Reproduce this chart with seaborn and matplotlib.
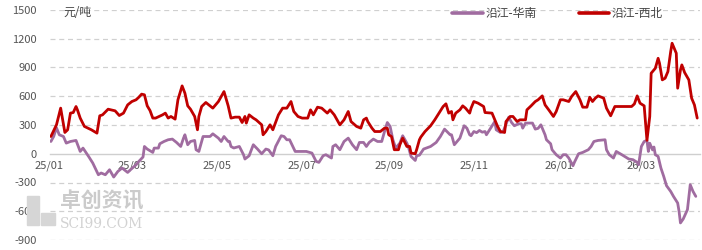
import matplotlib
matplotlib.use("Agg")
import matplotlib.pyplot as plt
import matplotlib.dates as mdates
import seaborn as sns
import pandas as pd
from matplotlib.patches import Rectangle

# ---------------- data ----------------
nw_dates = [
    "2025-01-02", "2025-01-05", "2025-01-06", "2025-01-09", "2025-01-12", "2025-01-14", "2025-01-16",
    "2025-01-18", "2025-01-20", "2025-01-21", "2025-01-23", "2025-01-26", "2025-01-31", "2025-02-04",
    "2025-02-06", "2025-02-08", "2025-02-12", "2025-02-17", "2025-02-20", "2025-02-23", "2025-02-26",
    "2025-03-01", "2025-03-04", "2025-03-06", "2025-03-08", "2025-03-10", "2025-03-12", "2025-03-14",
    "2025-03-16", "2025-03-18", "2025-03-23", "2025-03-25", "2025-03-27", "2025-03-29", "2025-04-01",
    "2025-04-03", "2025-04-06", "2025-04-08", "2025-04-10", "2025-04-12", "2025-04-15", "2025-04-17",
    "2025-04-18", "2025-04-20", "2025-04-23", "2025-04-26", "2025-04-28", "2025-05-02", "2025-05-06",
    "2025-05-09", "2025-05-11", "2025-05-14", "2025-05-17", "2025-05-19", "2025-05-21", "2025-05-22",
    "2025-05-24", "2025-05-27", "2025-05-29", "2025-06-02", "2025-06-03", "2025-06-05", "2025-06-08",
    "2025-06-10", "2025-06-14", "2025-06-17", "2025-06-20", "2025-06-23", "2025-06-25", "2025-06-28",
    "2025-07-01", "2025-07-05", "2025-07-07", "2025-07-09", "2025-07-12", "2025-07-15", "2025-07-19",
    "2025-07-21", "2025-07-24", "2025-07-28", "2025-07-31", "2025-08-03", "2025-08-05", "2025-08-09",
    "2025-08-12", "2025-08-14", "2025-08-16", "2025-08-17", "2025-08-20", "2025-08-22", "2025-08-26",
    "2025-08-29", "2025-08-31", "2025-09-01", "2025-09-03", "2025-09-05", "2025-09-08", "2025-09-09",
    "2025-09-11", "2025-09-14", "2025-09-16", "2025-09-17", "2025-09-20", "2025-09-21", "2025-09-23",
    "2025-09-24", "2025-09-27", "2025-10-01", "2025-10-04", "2025-10-07", "2025-10-10", "2025-10-12",
    "2025-10-14", "2025-10-16", "2025-10-17", "2025-10-19", "2025-10-22", "2025-10-24", "2025-10-26",
    "2025-10-29", "2025-10-30", "2025-11-01", "2025-11-04", "2025-11-08", "2025-11-09", "2025-11-14",
    "2025-11-16", "2025-11-18", "2025-11-20", "2025-11-23", "2025-11-24", "2025-11-27", "2025-11-29",
    "2025-12-02", "2025-12-04", "2025-12-08", "2025-12-09", "2025-12-12", "2025-12-15", "2025-12-17",
    "2025-12-20", "2025-12-22", "2025-12-25", "2025-12-28", "2025-12-30", "2026-01-02", "2026-01-04",
    "2026-01-08", "2026-01-10", "2026-01-13", "2026-01-16", "2026-01-18", "2026-01-21", "2026-01-23",
    "2026-01-25", "2026-01-27", "2026-01-29", "2026-02-02", "2026-02-04", "2026-02-07", "2026-02-10",
    "2026-02-22", "2026-02-24", "2026-02-26", "2026-02-28", "2026-03-03", "2026-03-05", "2026-03-07",
    "2026-03-08", "2026-03-11", "2026-03-13", "2026-03-14", "2026-03-16", "2026-03-18", "2026-03-20",
    "2026-03-22", "2026-03-23", "2026-03-26", "2026-03-27", "2026-03-29", "2026-03-30", "2026-04-01",
    "2026-04-04", "2026-04-06", "2026-04-08", "2026-04-10",
]
nw_values = [
    180, 271, 302, 476, 222, 250, 424,
    430, 493, 458, 372, 285, 250, 215,
    396, 406, 465, 448, 399, 424, 510,
    545, 563, 590, 622, 615, 500, 451,
    372, 372, 406, 424, 372, 389, 361,
    563, 708, 632, 500, 465, 389, 250,
    389, 493, 535, 500, 476, 545, 649,
    500, 372, 382, 382, 326, 389, 320,
    406, 372, 354, 302, 198, 232, 302,
    250, 406, 476, 476, 545, 441, 389,
    372, 372, 458, 406, 486, 476, 424,
    458, 406, 302, 354, 441, 336, 285,
    267, 354, 372, 336, 267, 232, 232,
    267, 267, 198, 180, 42, 42, 94,
    163, 76, 76, 7, 0, 42, 146,
    174, 232, 292, 354, 424, 493, 521,
    424, 441, 354, 424, 458, 500, 476,
    424, 476, 545, 528, 493, 430, 424,
    354, 285, 232, 222, 336, 389, 389,
    336, 354, 354, 458, 500, 545, 563,
    604, 510, 451, 389, 441, 563, 563,
    545, 597, 649, 563, 486, 486, 590,
    545, 580, 604, 580, 476, 396, 493,
    493, 520, 604, 528, 500, 140, 389,
    840, 892, 996, 944, 771, 788, 857,
    1066, 1153, 1049, 684, 875, 927, 847,
    771, 580, 510, 372,
]

sc_dates = [
    "2025-01-02", "2025-01-04", "2025-01-06", "2025-01-08", "2025-01-11", "2025-01-13", "2025-01-16",
    "2025-01-20", "2025-01-23", "2025-01-25", "2025-01-29", "2025-02-01", "2025-02-05", "2025-02-07",
    "2025-02-10", "2025-02-13", "2025-02-16", "2025-02-19", "2025-02-22", "2025-02-26", "2025-02-28",
    "2025-03-04", "2025-03-06", "2025-03-09", "2025-03-10", "2025-03-12", "2025-03-16", "2025-03-17",
    "2025-03-20", "2025-03-21", "2025-03-24", "2025-03-27", "2025-03-30", "2025-04-02", "2025-04-05",
    "2025-04-07", "2025-04-08", "2025-04-10", "2025-04-12", "2025-04-15", "2025-04-16", "2025-04-18",
    "2025-04-21", "2025-04-26", "2025-04-28", "2025-05-02", "2025-05-04", "2025-05-06", "2025-05-09",
    "2025-05-10", "2025-05-11", "2025-05-13", "2025-05-17", "2025-05-20", "2025-05-21", "2025-05-24",
    "2025-05-27", "2025-05-30", "2025-06-02", "2025-06-05", "2025-06-07", "2025-06-10", "2025-06-12",
    "2025-06-16", "2025-06-18", "2025-06-20", "2025-06-22", "2025-06-26", "2025-06-29", "2025-07-04",
    "2025-07-08", "2025-07-11", "2025-07-13", "2025-07-16", "2025-07-18", "2025-07-22", "2025-07-23",
    "2025-07-25", "2025-07-28", "2025-07-31", "2025-08-03", "2025-08-06", "2025-08-09", "2025-08-11",
    "2025-08-14", "2025-08-16", "2025-08-18", "2025-08-21", "2025-08-24", "2025-08-27", "2025-08-29",
    "2025-08-31", "2025-09-02", "2025-09-04", "2025-09-06", "2025-09-09", "2025-09-11", "2025-09-14",
    "2025-09-15", "2025-09-17", "2025-09-20", "2025-09-21", "2025-09-23", "2025-09-26", "2025-10-01",
    "2025-10-05", "2025-10-08", "2025-10-11", "2025-10-15", "2025-10-16", "2025-10-18", "2025-10-22",
    "2025-10-25", "2025-10-27", "2025-10-29", "2025-10-30", "2025-11-01", "2025-11-03", "2025-11-05",
    "2025-11-07", "2025-11-09", "2025-11-10", "2025-11-13", "2025-11-16", "2025-11-17", "2025-11-20",
    "2025-11-22", "2025-11-26", "2025-11-28", "2025-11-30", "2025-12-03", "2025-12-05", "2025-12-06",
    "2025-12-08", "2025-12-13", "2025-12-15", "2025-12-17", "2025-12-19", "2025-12-22", "2025-12-23",
    "2025-12-26", "2025-12-27", "2025-12-30", "2026-01-02", "2026-01-04", "2026-01-06", "2026-01-08",
    "2026-01-11", "2026-01-12", "2026-01-15", "2026-01-18", "2026-01-22", "2026-01-24", "2026-01-26",
    "2026-01-29", "2026-02-03", "2026-02-04", "2026-02-06", "2026-02-09", "2026-02-11", "2026-02-15",
    "2026-02-20", "2026-02-23", "2026-02-26", "2026-02-27", "2026-03-01", "2026-03-03", "2026-03-05",
    "2026-03-06", "2026-03-07", "2026-03-09", "2026-03-10", "2026-03-11", "2026-03-13", "2026-03-15",
    "2026-03-17", "2026-03-19", "2026-03-22", "2026-03-24", "2026-03-27", "2026-03-28", "2026-03-29",
    "2026-03-31", "2026-04-03", "2026-04-05", "2026-04-07", "2026-04-09",
]
sc_values = [
    128, 180, 271, 198, 180, 111, 128,
    139, 24, 59, -28, -97, -219, -201,
    -219, -167, -243, -184, -149, -195, -167,
    -115, -80, -34, 76, 49, 14, 59,
    59, 104, 128, 146, 153, 118, 76,
    163, 198, 94, 128, 139, 42, 24,
    180, 180, 208, 163, 128, 180, 128,
    128, 76, 60, 76, -10, -55, -21,
    94, 49, 0, 49, 40, -21, 76,
    188, 180, 146, 146, 24, 24, 24,
    7, -80, -90, -21, -10, -45, 76,
    94, 42, 128, 163, 94, 42, 118,
    118, 76, 118, 153, 128, 128, 232,
    326, 285, 146, 59, 111, 188, 111,
    76, -28, -70, -21, -15, 49, 76,
    118, 180, 257, 198, 198, 94, 163,
    292, 267, 198, 188, 232, 220, 243,
    225, 232, 198, 267, 336, 250, 222,
    232, 382, 326, 292, 313, 313, 267,
    320, 320, 257, 265, 302, 198, 146,
    104, 42, -10, -45, -10, -10, -45,
    -125, -90, 0, 14, 42, 76, 128,
    139, 146, 42, -10, -45, 24, -10,
    -55, -62, -90, -115, 76, 128, 139,
    24, 110, 40, 70, -10, -28, -149,
    -236, -333, -393, -445, -514, -601, -722,
    -680, -583, -323, -393, -445,
]

series_names = ["沿江-华南", "沿江-西北"]
unit_label = "元/吨"
watermark_cn = "卓创资讯"
watermark_en = "SCI99.COM"
y_ticks = [-900, -600, -300, 0, 300, 600, 900, 1200, 1500]
x_tick_dates = ["2025-01-01", "2025-03-01", "2025-05-01", "2025-07-01",
                "2025-09-01", "2025-11-01", "2026-01-01", "2026-03-01"]

# ---------------- plotting ----------------
sns.set_theme(style="white")
plt.rcParams["font.family"] = ["Noto Sans CJK SC", "DejaVu Sans"]
plt.rcParams["axes.unicode_minus"] = False

fig = plt.figure(figsize=(7.02, 2.50), dpi=100)
ax = fig.add_axes([49.5 / 702, 10 / 250, (700 - 49.5) / 702, 230 / 250])

df_sc = pd.DataFrame({"date": pd.to_datetime(sc_dates), "value": sc_values})
df_nw = pd.DataFrame({"date": pd.to_datetime(nw_dates), "value": nw_values})

purple = "#A06CA0"
red = "#C00000"

# watermark (behind lines)
wm = "#cbcbcb"
fig.text(60 / 702, 1 - 201 / 250, watermark_cn, fontsize=15, color=wm, fontweight="bold",
         ha="left", va="center", zorder=0)
fig.text(60 / 702, 1 - 224 / 250, watermark_en, fontsize=10, color="#d2d2d2",
         family="DejaVu Serif", ha="left", va="center", zorder=0)
fig.patches.append(Rectangle((27 / 702, 1 - 225 / 250), 12 / 702, 29 / 250,
                             transform=fig.transFigure, color="#d6d6d6", zorder=0))
fig.patches.append(Rectangle((41 / 702, 1 - 225 / 250), 14 / 702, 12 / 250,
                             transform=fig.transFigure, color="#d6d6d6", zorder=0))

sns.lineplot(data=df_sc, x="date", y="value", ax=ax, color=purple, linewidth=2.0,
             label=series_names[0], zorder=3)
sns.lineplot(data=df_nw, x="date", y="value", ax=ax, color=red, linewidth=2.0,
             label=series_names[1], zorder=4)

ax.set_xlim(pd.Timestamp("2025-01-01"), pd.Timestamp("2026-04-12"))
ax.set_ylim(-900, 1500)
ax.set_yticks(y_ticks)
ax.set_yticklabels([str(v) for v in y_ticks])
ax.set_xticks(pd.to_datetime(x_tick_dates))
ax.xaxis.set_major_formatter(mdates.DateFormatter("%y/%m"))
ax.set_xlabel("")
ax.set_ylabel("")
ax.patch.set_alpha(0)

for v in y_ticks:
    if v != 0:
        ax.axhline(v, color="#d0d0d0", linewidth=0.9, linestyle=(0, (4, 3)), zorder=1)

for s in ["top", "right", "left"]:
    ax.spines[s].set_visible(False)
ax.spines["bottom"].set_position(("data", 0))
ax.spines["bottom"].set_color("#cfcfcf")
ax.spines["bottom"].set_linewidth(1.0)
ax.spines["bottom"].set_zorder(2)

ax.tick_params(axis="x", direction="out", length=4, width=0.8, color="#cfcfcf",
               labelsize=8, labelcolor="#555555", pad=1)
ax.tick_params(axis="y", length=0, labelsize=8, labelcolor="#555555", pad=9)

ax.text(63 / 702, 1 - 12 / 250, unit_label, transform=fig.transFigure, fontsize=8.5,
        color="#444444", ha="left", va="center")

leg = ax.legend(loc="upper left", bbox_to_anchor=(445 / 702, 1.0), bbox_transform=fig.transFigure,
                ncol=2, frameon=False, fontsize=8.5, handlelength=2.6, handletextpad=0.2,
                columnspacing=3.6, borderaxespad=0.2)
for line in leg.get_lines():
    line.set_linewidth(2.6)
for t in leg.get_texts():
    t.set_color("#444444")

fig.savefig("out.png", dpi=100)
